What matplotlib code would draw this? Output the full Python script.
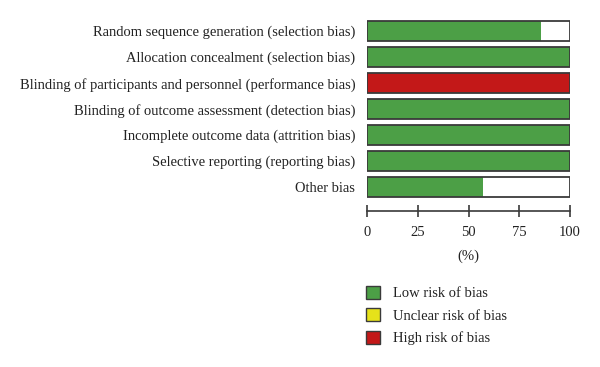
import matplotlib.pyplot as plt
from matplotlib.patches import Patch

domains = [
    "Random sequence generation (selection bias)",
    "Allocation concealment (selection bias)",
    "Blinding of participants and personnel (performance bias)",
    "Blinding of outcome assessment (detection bias)",
    "Incomplete outcome data (attrition bias)",
    "Selective reporting (reporting bias)",
    "Other bias",
]
low_risk = [85.7, 100, 0, 100, 100, 100, 57.1]
unclear_risk = [0, 0, 0, 0, 0, 0, 0]
high_risk = [0, 0, 100, 0, 0, 0, 0]

legend_labels = ["Low risk of bias", "Unclear risk of bias", "High risk of bias"]
colors = ["#4c9f46", "#e6e21a", "#c31818"]
edge = "#3a3a3a"

plt.rcParams['font.family'] = ['Liberation Serif', 'DejaVu Serif']

fig = plt.figure(figsize=(6, 3.67), dpi=100)
ax = fig.add_axes([367 / 600, 1 - 200 / 367, 203 / 600, 182 / 367])

y = list(range(len(domains)))
h = 0.77
left = [0] * len(domains)
for vals, c in zip([low_risk, unclear_risk, high_risk], colors):
    ax.barh(y, vals, left=left, height=h, color=c, edgecolor='none')
    left = [a + b for a, b in zip(left, vals)]
ax.barh(y, [100] * len(domains), height=h, facecolor='none',
        edgecolor=edge, linewidth=1.3)

ax.set_xlim(0, 100)
ax.set_ylim(len(domains) - 0.5, -0.5)
ax.set_yticks(y)
ax.set_yticklabels(domains, fontsize=10.45, color='#222222')
ax.tick_params(axis='y', length=0, pad=8.5)

for s in ['top', 'right', 'left']:
    ax.spines[s].set_visible(False)
ax.spines['bottom'].set_position(('outward', 8))
ax.spines['bottom'].set_color(edge)
ax.spines['bottom'].set_linewidth(1.2)
ax.set_xticks([0, 25, 50, 75, 100])
ax.tick_params(axis='x', direction='inout', length=8, width=1.2,
               color=edge, labelsize=10.5, labelcolor='#222222', pad=7)
ax.set_xlabel("(%)", fontsize=10.5, color='#222222', labelpad=7)

handles = [Patch(facecolor=c, edgecolor=edge, linewidth=1.0) for c in colors]
fig.legend(handles, legend_labels, loc='upper left',
           bbox_to_anchor=(366 / 600, 1 - 286 / 367), frameon=False,
           borderaxespad=0, borderpad=0,
           fontsize=10.5, handlelength=0.97, handleheight=0.97,
           handletextpad=0.9, labelspacing=0.55, labelcolor='#222222')

fig.savefig("out.png", dpi=100)
